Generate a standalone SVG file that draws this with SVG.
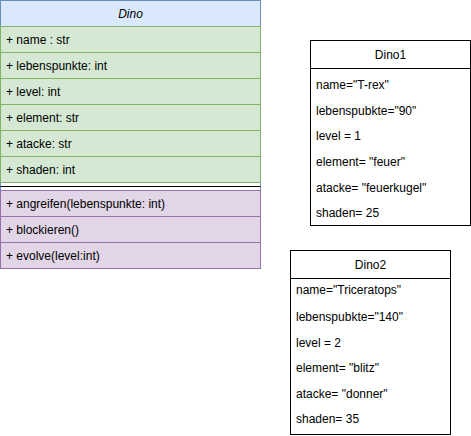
<svg xmlns="http://www.w3.org/2000/svg" width="471" height="436" viewBox="0 0 471 436">
<style>
text{font-family:"Liberation Sans",Arial,sans-serif;font-size:12px;fill:#000}
.hdr{fill:#dae8fc;stroke:#6c8ebf}
.attr{fill:#d5e8d4;stroke:#82b366}
.meth{fill:#e1d5e7;stroke:#9673a6}
.obj{fill:#fff;stroke:#000}
</style>
<rect width="471" height="436" fill="#fff"/>
<g id="Dino">
<rect x="0.5" y="0.5" width="260" height="268" fill="#fff" stroke="#6c8ebf"/>
<rect class="hdr" x="0.5" y="0.5" width="260" height="26"/>
<text x="130.5" y="17.5" text-anchor="middle" font-style="italic">Dino</text>
<rect class="attr" x="0.5" y="26.5" width="260" height="26"/>
<text x="6" y="43.5">+ name : str</text>
<rect class="attr" x="0.5" y="52.5" width="260" height="26"/>
<text x="6" y="69.5">+ lebenspunkte: int</text>
<rect class="attr" x="0.5" y="78.5" width="260" height="26"/>
<text x="6" y="95.5">+ level: int</text>
<rect class="attr" x="0.5" y="104.5" width="260" height="26"/>
<text x="6" y="121.5">+ element: str</text>
<rect class="attr" x="0.5" y="130.5" width="260" height="26"/>
<text x="6" y="147.5">+ atacke: str</text>
<rect class="attr" x="0.5" y="156.5" width="260" height="26"/>
<text x="6" y="173.5">+ shaden: int</text>
<line x1="0.5" y1="186.5" x2="260.5" y2="186.5" stroke="#000"/>
<rect class="meth" x="0.5" y="190.5" width="260" height="26"/>
<text x="6" y="207.5">+ angreifen(lebenspunkte: int)</text>
<rect class="meth" x="0.5" y="216.5" width="260" height="26"/>
<text x="6" y="233.5">+ blockieren()</text>
<rect class="meth" x="0.5" y="242.5" width="260" height="26"/>
<text x="6" y="259.5">+ evolve(level:int)</text>
</g>
<g id="Dino1">
<rect class="obj" x="310.5" y="40.5" width="160" height="185"/>
<line x1="310.5" y1="68.5" x2="470.5" y2="68.5" stroke="#000"/>
<text x="390.5" y="59" text-anchor="middle">Dino1</text>
<text x="316" y="89">name="T-rex"</text>
<text x="316" y="115">lebenspubkte="90"</text>
<text x="316" y="140">level = 1</text>
<text x="316" y="166">element= "feuer"</text>
<text x="316" y="192">atacke= "feuerkugel"</text>
<text x="316" y="217">shaden= 25</text>
</g>
<g id="Dino2">
<rect class="obj" x="290.5" y="250.5" width="160" height="184"/>
<line x1="290.5" y1="278.5" x2="450.5" y2="278.5" stroke="#000"/>
<text x="370.5" y="269" text-anchor="middle">Dino2</text>
<text x="296" y="294">name="Triceratops"</text>
<text x="296" y="321">lebenspubkte="140"</text>
<text x="296" y="347">level = 2</text>
<text x="296" y="372">element= "blitz"</text>
<text x="296" y="398">atacke= "donner"</text>
<text x="296" y="423">shaden= 35</text>
</g>
<g id="connectors"/>
</svg>
